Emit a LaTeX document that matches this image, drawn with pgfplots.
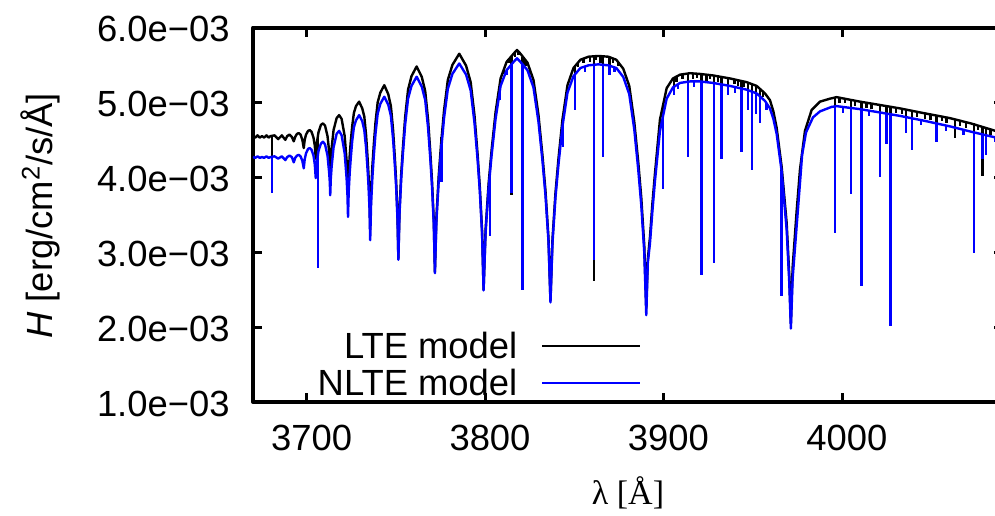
\documentclass[border=0pt]{standalone}
\usepackage{fontspec}
\setmainfont{Liberation Sans}
\newfontfamily\seriffont{Liberation Serif}
\usepackage{pgfplots}
\usepackage{pgfplotstable}
\pgfplotsset{compat=1.18}
\pgfplotstableread{
x y
3669.74 4.55
3671.0 4.53
3672.3 4.56
3673.5 4.53
3674.8 4.55
3676.0 4.53
3677.3 4.56
3678.5 4.53
3679.6 4.55
3681.8 4.56
3683.86 4.51
3685.9 4.56
3687.87 4.50
3688.9 4.55
3690.2 4.57
3691.5 4.54
3692.60 4.48
3693.4 4.54
3694.4 4.58
3695.40 4.59
3696.4 4.57
3697.4 4.50
3698.20 4.39
3698.72 4.50
3699.46 4.57
3700.61 4.62
3701.56 4.63
3702.50 4.61
3703.65 4.53
3704.39 4.42
3704.91 4.25
3705.16 4.37
3705.54 4.46
3706.43 4.60
3707.82 4.70
3708.97 4.72
3710.12 4.69
3711.51 4.55
3712.40 4.35
3712.78 4.22
3713.03 4.05
3713.34 4.25
3713.81 4.39
3714.90 4.63
3716.61 4.79
3718.02 4.83
3719.42 4.78
3721.13 4.55
3722.22 4.22
3722.69 4.01
3723.00 3.74
3723.39 4.06
3723.97 4.30
3724.55 4.48
3725.33 4.68
3726.30 4.86
3727.46 4.95
3729.22 5.01
3730.97 4.92
3732.13 4.81
3733.10 4.57
3733.88 4.29
3734.46 4.05
3735.04 3.73
3735.43 3.30
3735.92 3.78
3736.66 4.15
3737.40 4.42
3738.39 4.73
3739.62 5.00
3741.10 5.13
3743.33 5.23
3745.55 5.11
3747.03 4.95
3748.26 4.63
3749.25 4.26
3749.99 3.94
3750.73 3.50
3751.22 2.92
3751.86 3.56
3752.82 4.05
3753.78 4.40
3755.05 4.81
3756.65 5.17
3758.57 5.35
3761.46 5.48
3764.35 5.34
3766.27 5.15
3767.87 4.77
3769.14 4.33
3770.10 3.94
3771.06 3.42
3771.70 2.74
3772.55 3.47
3773.83 4.02
3775.10 4.43
3776.81 4.89
3778.94 5.30
3781.50 5.50
3785.34 5.65
3789.18 5.49
3791.74 5.27
3793.87 4.83
3795.58 4.32
3796.85 3.88
3798.13 3.29
3798.98 2.50
3800.10 3.30
3801.78 3.91
3803.46 4.36
3805.70 4.87
3808.51 5.32
3811.87 5.54
3815.79 5.65
3817.70 5.70
3819.66 5.65
3823.58 5.53
3826.94 5.30
3829.75 4.83
3831.99 4.29
3833.67 3.82
3835.35 3.19
3836.47 2.35
3837.59 3.17
3839.27 3.79
3840.95 4.25
3843.19 4.77
3846.00 5.23
3849.36 5.46
3853.28 5.57
3857.80 5.61
3863.30 5.62
3868.90 5.61
3873.35 5.57
3877.27 5.45
3880.63 5.22
3883.44 4.74
3885.68 4.20
3887.36 3.73
3889.04 3.09
3890.16 2.25
3891.0 2.90
3892.23 3.20
3893.6 3.65
3895.03 4.05
3897.83 4.77
3901.59 5.19
3905.12 5.32
3909.05 5.37
3914.65 5.39
3920.25 5.38
3927.54 5.36
3937.07 5.32
3946.43 5.27
3952.03 5.22
3956.69 5.12
3959.49 5.03
3961.4 4.88
3963.24 4.66
3966.04 4.14
3968.85 3.39
3970.3 2.70
3971.20 2.05
3972.2 2.80
3974.45 3.55
3976.30 4.10
3979.10 4.62
3982.86 4.90
3987.51 5.01
3993.12 5.05
3996.87 5.07
4009.93 5.01
4020.0 4.97
4032.35 4.92
4045.0 4.86
4060.37 4.79
4072.0 4.72
4084.47 4.63
4090.07 4.59
}\ltedata
\pgfplotstableread{
x y
3669.74 4.27
3671.0 4.26
3672.3 4.28
3673.5 4.26
3674.8 4.27
3676.0 4.26
3677.3 4.28
3678.5 4.26
3679.6 4.27
3681.8 4.28
3683.86 4.25
3685.9 4.28
3687.87 4.23
3688.9 4.27
3690.2 4.29
3691.5 4.27
3692.60 4.20
3693.4 4.26
3694.4 4.29
3695.40 4.30
3696.4 4.28
3697.4 4.22
3698.20 4.12
3698.72 4.24
3699.46 4.32
3700.61 4.38
3701.56 4.39
3702.50 4.37
3703.65 4.29
3704.39 4.17
3704.91 3.99
3705.16 4.11
3705.54 4.20
3706.43 4.35
3707.82 4.45
3708.97 4.475
3710.12 4.44
3711.51 4.29
3712.40 4.07
3712.78 3.94
3713.03 3.76
3713.34 3.98
3713.81 4.14
3714.90 4.40
3716.61 4.58
3718.02 4.62
3719.42 4.56
3721.13 4.32
3722.22 3.98
3722.69 3.76
3723.00 3.47
3723.39 3.81
3723.97 4.07
3724.55 4.26
3725.33 4.48
3726.30 4.67
3727.46 4.76
3729.22 4.83
3730.97 4.75
3732.13 4.63
3733.10 4.40
3733.88 4.13
3734.46 3.90
3735.04 3.58
3735.43 3.16
3735.92 3.64
3736.66 4.00
3737.40 4.27
3738.39 4.58
3739.62 4.85
3741.10 4.98
3743.33 5.076
3745.55 4.97
3747.03 4.82
3748.26 4.51
3749.25 4.16
3749.99 3.86
3750.73 3.44
3751.22 2.90
3751.86 3.51
3752.82 3.98
3753.78 4.32
3755.05 4.71
3756.65 5.05
3758.57 5.22
3761.46 5.343
3764.35 5.21
3766.27 5.03
3767.87 4.66
3769.14 4.24
3770.10 3.87
3771.06 3.38
3771.70 2.72
3772.55 3.42
3773.83 3.95
3775.10 4.34
3776.81 4.79
3778.94 5.18
3781.50 5.38
3785.34 5.52
3789.18 5.37
3791.74 5.16
3793.87 4.73
3795.58 4.25
3796.85 3.82
3798.13 3.25
3798.98 2.49
3800.10 3.26
3801.78 3.85
3803.46 4.29
3805.70 4.78
3808.51 5.22
3811.87 5.43
3815.79 5.54
3817.70 5.589
3819.66 5.54
3823.58 5.43
3826.94 5.20
3829.75 4.74
3831.99 4.22
3833.67 3.76
3835.35 3.15
3836.47 2.33
3837.59 3.12
3839.27 3.73
3840.95 4.17
3843.19 4.68
3846.00 5.13
3849.36 5.35
3853.28 5.46
3857.80 5.495
3863.30 5.508
3868.90 5.495
3873.35 5.46
3877.27 5.34
3880.63 5.11
3883.44 4.64
3885.68 4.10
3887.36 3.63
3889.04 3.00
3890.16 2.16
3891.0 2.85
3892.23 3.12
3893.6 3.55
3895.03 3.95
3897.83 4.62
3901.59 5.05
3905.12 5.20
3909.05 5.26
3914.65 5.28
3920.25 5.28
3927.54 5.26
3937.07 5.22
3946.43 5.17
3952.03 5.12
3956.69 5.02
3959.49 4.92
3961.4 4.78
3963.24 4.58
3966.04 4.08
3968.85 3.30
3970.3 2.60
3971.20 1.98
3972.2 2.65
3974.45 3.35
3976.30 3.92
3977.5 4.30
3979.7 4.60
3983.6 4.80
3987.51 4.88
3994.0 4.94
3996.87 4.95
4009.93 4.91
4020.0 4.87
4032.35 4.82
4045.0 4.76
4060.37 4.68
4072.0 4.61
4084.47 4.54
4090.07 4.51
}\nltedata
\begin{document}
\begin{tikzpicture}
\begin{axis}[
  at={(0pt,0pt)}, anchor=south west,
  scale only axis,
  width=375pt, height=187.25pt,
  xmin=3669.74, xmax=4090.1,
  ymin=1, ymax=6,
  xtick={3700,3800,3900,4000},
  xticklabels={3700,3800,3900,4000},
  ytick={1,2,3,4,5,6},
  yticklabels={1.0e−03,2.0e−03,3.0e−03,4.0e−03,5.0e−03,6.0e−03},
  tick align=inside,
  major tick length=4.5pt,
  axis line style={line width=2pt},
  every tick/.style={black, line width=1.5pt},
  tick label style={font=\fontsize{18.2}{22}\selectfont},
  xticklabel style={anchor=base, inner sep=0pt, yshift=-24.3pt, xshift=2.3pt},
  yticklabel style={anchor=east, inner sep=0pt, xshift=-11.5pt, yshift=-0.9pt},
  xlabel={{\seriffont λ [Å]}},
  ylabel={\textit{H} [erg/cm\textsuperscript{2}/s/Å]},
  every axis x label/.style={at={(axis description cs:0.5,-0.275)}, anchor=base, font=\fontsize{17}{20}\selectfont},
  every axis y label/.style={at={(axis description cs:-0.284,0.497)}, anchor=center, rotate=90, font=\fontsize{18.2}{22}\selectfont},
  legend style={draw=none, fill=none, inner sep=0pt, at={(axis description cs:0.5183,0.011)}, anchor=south east, font=\fontsize{18.2}{22}\selectfont, nodes={inner sep=0pt, text height=13.6pt, text depth=1pt}, row sep=3.7pt, column sep=12pt},
  legend cell align=right,
  legend plot pos=right,
  legend image code/.code={\draw[#1, line width=1.1pt] (0pt,0pt) -- (48.9pt,0pt);},
  line join=round,
]
\addplot[black, line width=1.2pt, line join=round] table[x=x,y=y] {\ltedata};
\addlegendentry{LTE model}
\addplot[black, line width=1.2pt, forget plot, unbounded coords=jump] coordinates {
(3680.30,4.55) (3680.30,4.28) (3680.30,nan)
(3706.30,4.58) (3706.30,2.82) (3706.30,nan)
(3775.50,4.54) (3775.50,3.97) (3775.50,nan)
(3802.56,4.12) (3802.56,3.24) (3802.56,nan)
(3808.20,5.27) (3808.20,5.06) (3808.20,nan)
(3814.72,5.62) (3814.72,3.76) (3814.72,nan)
(3820.88,5.61) (3820.88,2.52) (3820.88,nan)
(3843.64,4.85) (3843.64,4.44) (3843.64,nan)
(3850.20,5.49) (3850.20,4.93) (3850.20,nan)
(3860.85,5.62) (3860.85,2.61) (3860.85,nan)
(3866.06,5.62) (3866.06,4.30) (3866.06,nan)
(3869.50,5.61) (3869.50,5.39) (3869.50,nan)
(3899.69,4.98) (3899.69,3.87) (3899.69,nan)
(3905.80,5.33) (3905.80,5.13) (3905.80,nan)
(3913.69,5.39) (3913.69,4.30) (3913.69,nan)
(3921.20,5.38) (3921.20,2.73) (3921.20,nan)
(3928.27,5.36) (3928.27,2.89) (3928.27,nan)
(3932.40,5.34) (3932.40,4.27) (3932.40,nan)
(3936.10,5.32) (3936.10,5.13) (3936.10,nan)
(3943.60,5.29) (3943.60,4.37) (3943.60,nan)
(3947.30,5.26) (3947.30,4.93) (3947.30,nan)
(3949.57,5.25) (3949.57,4.13) (3949.57,nan)
(3951.60,5.22) (3951.60,4.88) (3951.60,nan)
(3953.88,5.18) (3953.88,4.75) (3953.88,nan)
(3966.04,4.14) (3966.04,2.44) (3966.04,nan)
(3995.90,5.07) (3995.90,3.28) (3995.90,nan)
(4004.87,5.03) (4004.87,3.81) (4004.87,nan)
(4010.87,5.01) (4010.87,2.58) (4010.87,nan)
(4021.10,4.97) (4021.10,4.03) (4021.10,nan)
(4024.90,4.95) (4024.90,4.48) (4024.90,nan)
(4027.10,4.95) (4027.10,2.04) (4027.10,nan)
(4035.60,4.90) (4035.60,4.62) (4035.60,nan)
(4039.20,4.88) (4039.20,4.39) (4039.20,nan)
(4052.90,4.83) (4052.90,4.50) (4052.90,nan)
(4063.20,4.77) (4063.20,4.53) (4063.20,nan)
(4073.80,4.72) (4073.80,3.02) (4073.80,nan)
(4078.70,4.67) (4078.70,4.02) (4078.70,nan)
(4080.50,4.66) (4080.50,4.33) (4080.50,nan)
(3810.5,5.45) (3810.5,5.38) (3810.5,nan)
(3813.0,5.58) (3813.0,5.52) (3813.0,nan)
(3816.5,5.67) (3816.5,5.60) (3816.5,nan)
(3818.6,5.68) (3818.6,5.63) (3818.6,nan)
(3822.5,5.57) (3822.5,5.49) (3822.5,nan)
(3825.0,5.44) (3825.0,5.38) (3825.0,nan)
(3852.0,5.54) (3852.0,5.47) (3852.0,nan)
(3855.0,5.59) (3855.0,5.53) (3855.0,nan)
(3858.5,5.61) (3858.5,5.54) (3858.5,nan)
(3862.0,5.62) (3862.0,5.56) (3862.0,nan)
(3864.5,5.62) (3864.5,5.53) (3864.5,nan)
(3871.5,5.59) (3871.5,5.52) (3871.5,nan)
(3874.5,5.54) (3874.5,5.48) (3874.5,nan)
(3907.0,5.35) (3907.0,5.27) (3907.0,nan)
(3910.5,5.37) (3910.5,5.31) (3910.5,nan)
(3916.5,5.39) (3916.5,5.31) (3916.5,nan)
(3918.5,5.39) (3918.5,5.33) (3918.5,nan)
(3924.0,5.37) (3924.0,5.29) (3924.0,nan)
(3926.0,5.37) (3926.0,5.31) (3926.0,nan)
(3930.5,5.35) (3930.5,5.27) (3930.5,nan)
(3939.5,5.31) (3939.5,5.25) (3939.5,nan)
(3941.5,5.30) (3941.5,5.22) (3941.5,nan)
(3945.0,5.28) (3945.0,5.21) (3945.0,nan)
(3955.5,5.15) (3955.5,5.07) (3955.5,nan)
(3998.5,5.07) (3998.5,4.99) (3998.5,nan)
(4001.5,5.05) (4001.5,4.99) (4001.5,nan)
(4007.0,5.02) (4007.0,4.95) (4007.0,nan)
(4013.5,5.00) (4013.5,4.93) (4013.5,nan)
(4016.5,4.98) (4016.5,4.91) (4016.5,nan)
(4030.0,4.93) (4030.0,4.86) (4030.0,nan)
(4033.5,4.92) (4033.5,4.84) (4033.5,nan)
(4042.0,4.87) (4042.0,4.81) (4042.0,nan)
(4046.5,4.85) (4046.5,4.78) (4046.5,nan)
(4049.5,4.84) (4049.5,4.76) (4049.5,nan)
(4056.0,4.81) (4056.0,4.75) (4056.0,nan)
(4058.5,4.80) (4058.5,4.73) (4058.5,nan)
(4066.0,4.76) (4066.0,4.69) (4066.0,nan)
(4069.5,4.74) (4069.5,4.66) (4069.5,nan)
(4076.0,4.69) (4076.0,4.63) (4076.0,nan)
(4083.0,4.64) (4083.0,4.56) (4083.0,nan)
(4086.5,4.62) (4086.5,4.55)
};
\addplot[blue, line width=1.2pt, line join=round] table[x=x,y=y] {\nltedata};
\addlegendentry{NLTE model}
\addplot[blue, line width=1.2pt, forget plot, unbounded coords=jump] coordinates {
(3680.30,4.27) (3680.30,3.79) (3680.30,nan)
(3706.30,4.33) (3706.30,2.79) (3706.30,nan)
(3775.50,4.45) (3775.50,3.94) (3775.50,nan)
(3802.56,4.05) (3802.56,3.21) (3802.56,nan)
(3808.20,5.17) (3808.20,5.03) (3808.20,nan)
(3814.72,5.51) (3814.72,3.79) (3814.72,nan)
(3820.88,5.51) (3820.88,2.50) (3820.88,nan)
(3843.64,4.75) (3843.64,4.41) (3843.64,nan)
(3850.20,5.37) (3850.20,4.90) (3850.20,nan)
(3860.85,5.50) (3860.85,2.90) (3860.85,nan)
(3866.06,5.50) (3866.06,4.27) (3866.06,nan)
(3869.50,5.49) (3869.50,5.36) (3869.50,nan)
(3899.69,4.83) (3899.69,3.84) (3899.69,nan)
(3905.80,5.21) (3905.80,5.10) (3905.80,nan)
(3913.69,5.28) (3913.69,4.27) (3913.69,nan)
(3921.20,5.28) (3921.20,2.70) (3921.20,nan)
(3928.27,5.26) (3928.27,2.86) (3928.27,nan)
(3932.40,5.24) (3932.40,4.24) (3932.40,nan)
(3936.10,5.22) (3936.10,5.10) (3936.10,nan)
(3943.60,5.19) (3943.60,4.34) (3943.60,nan)
(3947.30,5.16) (3947.30,4.90) (3947.30,nan)
(3949.57,5.14) (3949.57,4.10) (3949.57,nan)
(3951.60,5.12) (3951.60,4.85) (3951.60,nan)
(3953.88,5.09) (3953.88,4.72) (3953.88,nan)
(3966.04,4.08) (3966.04,2.41) (3966.04,nan)
(3995.90,4.95) (3995.90,3.25) (3995.90,nan)
(4004.87,4.93) (4004.87,3.78) (4004.87,nan)
(4010.87,4.91) (4010.87,2.55) (4010.87,nan)
(4021.10,4.87) (4021.10,4.00) (4021.10,nan)
(4024.90,4.85) (4024.90,4.45) (4024.90,nan)
(4027.10,4.85) (4027.10,2.01) (4027.10,nan)
(4035.60,4.81) (4035.60,4.59) (4035.60,nan)
(4039.20,4.79) (4039.20,4.36) (4039.20,nan)
(4052.90,4.72) (4052.90,4.47) (4052.90,nan)
(4073.80,4.60) (4073.80,2.99) (4073.80,nan)
(4078.70,4.57) (4078.70,4.25) (4078.70,nan)
(4080.50,4.56) (4080.50,4.30) (4080.50,nan)
(3812.2,5.44) (3812.2,5.36) (3812.2,nan)
(3855.8,5.48) (3855.8,5.40) (3855.8,nan)
(3872.4,5.47) (3872.4,5.40) (3872.4,nan)
(3908.0,5.25) (3908.0,5.18) (3908.0,nan)
(3917.0,5.28) (3917.0,5.21) (3917.0,nan)
(3940.0,5.20) (3940.0,5.12) (3940.0,nan)
(3957.5,4.99) (3957.5,4.90) (3957.5,nan)
(4000.5,4.94) (4000.5,4.86) (4000.5,nan)
(4015.0,4.89) (4015.0,4.82) (4015.0,nan)
(4044.0,4.76) (4044.0,4.70) (4044.0,nan)
(4058.0,4.69) (4058.0,4.62) (4058.0,nan)
(4068.0,4.63) (4068.0,4.57) (4068.0,nan)
(4085.5,4.53) (4085.5,4.47)
};
\end{axis}
\pgfresetboundingbox
\path[use as bounding box] (-126.5pt,-56.5pt) rectangle (371pt,201pt);
\end{tikzpicture}
\end{document}
